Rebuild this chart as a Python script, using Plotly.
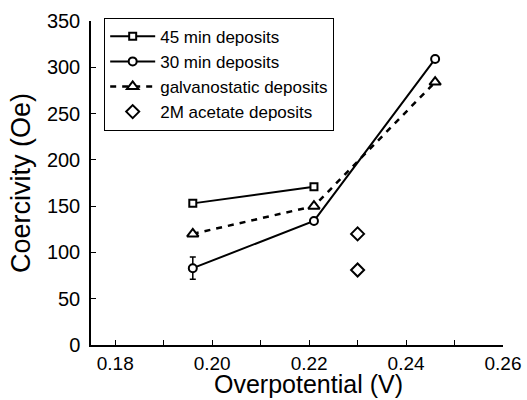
import plotly.graph_objects as go

# Data
x45 = [0.196, 0.221]
y45 = [153, 171]

x30 = [0.196, 0.221, 0.246]
y30 = [83, 134, 309]
err30 = [12, 0, 0]

xgal = [0.196, 0.221, 0.246]
ygal = [120, 150, 284]

xace = [0.230, 0.230]
yace = [120, 81]

XTITLE = "Overpotential (V)"
YTITLE = "Coercivity (Oe)"

FONT = "Liberation Sans, Arial, Helvetica, sans-serif"

fig = go.Figure()
fig.add_trace(go.Scatter(
    x=x45, y=y45, mode="lines+markers", name="45 min deposits",
    line=dict(color="black", width=2),
    marker=dict(symbol="square", size=7, color="white", line=dict(color="black", width=2)),
))
fig.add_trace(go.Scatter(
    x=x30, y=y30, mode="lines+markers", name="30 min deposits",
    line=dict(color="black", width=2),
    error_y=dict(type="data", array=err30, visible=True, color="black", thickness=1.5, width=3),
    marker=dict(symbol="circle", size=8, color="white", line=dict(color="black", width=2)),
))
fig.add_trace(go.Scatter(
    x=xgal, y=ygal, mode="lines+markers", name="galvanostatic deposits",
    line=dict(color="black", width=2.5, dash="6px,6px"),
    marker=dict(symbol="triangle-up", size=10, color="white", line=dict(color="black", width=2)),
))
fig.add_trace(go.Scatter(
    x=xace, y=yace, mode="markers", name="2M acetate deposits",
    marker=dict(symbol="diamond", size=10, color="white", line=dict(color="black", width=2)),
))

fig.add_annotation(
    text=XTITLE, xref="paper", yref="paper", x=0.527, y=-0.168,
    xanchor="center", yanchor="bottom", showarrow=False,
    font=dict(size=25, family=FONT, color="black"), borderpad=0,
)

fig.update_layout(
    width=527, height=400,
    margin=dict(l=91, r=24, t=21, b=55, autoexpand=False),
    paper_bgcolor="white", plot_bgcolor="white",
    font=dict(family=FONT, color="black", size=18),
    showlegend=True,
    legend=dict(
        x=0.032, y=1.01, xanchor="left", yanchor="top",
        bordercolor="black", borderwidth=1, bgcolor="white",
        font=dict(size=17, family=FONT, color="black"),
        tracegroupgap=0, itemwidth=45,
    ),
    xaxis=dict(
        range=[0.175, 0.26], tick0=0.18, dtick=0.02, tickformat=".2f",
        ticks="inside", ticklen=5, tickcolor="black", tickwidth=1,
        minor=dict(dtick=0.01, tick0=0.18, ticks="inside", ticklen=5, tickcolor="black"),
        showline=True, linecolor="black", linewidth=1.5, showgrid=False, zeroline=False,
        tickfont=dict(size=19), automargin=False,
    ),
    yaxis=dict(
        title=dict(text=YTITLE, font=dict(size=27), standoff=8),
        range=[0, 350], dtick=50,
        ticks="inside", ticklen=5, tickcolor="black", tickwidth=1,
        showline=True, linecolor="black", linewidth=1.5, showgrid=False, zeroline=False,
        tickfont=dict(size=20), automargin=False, ticklabelstandoff=5,
    ),
)

fig.write_html(
    "out.html",
    config={"displayModeBar": False},
    post_script="document.body.style.margin='0';document.body.style.overflow='hidden';",
)
